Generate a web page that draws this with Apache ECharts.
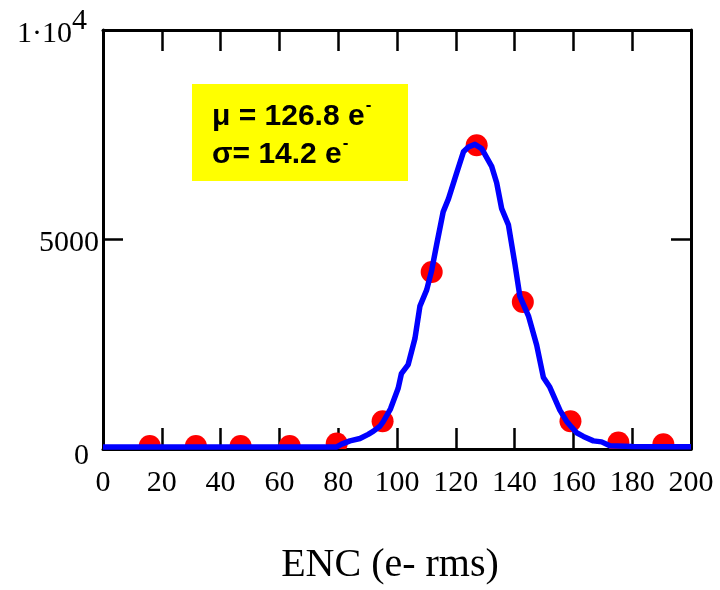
<!DOCTYPE html>
<html>
<head>
<meta charset="utf-8">
<script src="https://cdn.jsdelivr.net/npm/echarts@6/dist/echarts.min.js"></script>
<style>html,body{margin:0;padding:0;background:#fff}#c{width:720px;height:590px}</style>
</head>
<body>
<div id="c"></div>
<script>
// Measured points (ENC, counts)
var pointX = [15.9, 31.6, 46.8, 63.5, 79.5, 95.1, 111.8, 127.1, 142.8, 159.0, 175.3, 190.6];
var pointY = [70, 70, 70, 70, 130, 660, 4225, 7250, 3510, 660, 155, 115];
// Fitted curve
var curveX = [0, 20, 40, 60, 74, 79.5, 81.2, 84, 87.4, 90.2, 92, 94.2, 95.3, 97.8, 100.4, 101.5, 103.8, 106.1, 107.8, 110.1, 111.8, 113.5, 115.7, 117.5, 120.3, 122.6, 124.3, 126.5, 128.8, 132.2, 133.9, 135.6, 137.9, 140.1, 141.8, 144.7, 147.5, 149.8, 152, 155.4, 157.7, 159.4, 161.1, 163.4, 166.8, 169.6, 172.4, 180, 190, 200];
var curveY = [50, 50, 50, 50, 50, 50, 116, 194, 250, 350, 426, 543, 650, 960, 1450, 1800, 2016, 2636, 3411, 3798, 4264, 4884, 5659, 5969, 6589, 7093, 7209, 7271, 7170, 6744, 6356, 5737, 5349, 4419, 3644, 3178, 2481, 1705, 1472, 930, 659, 520, 388, 300, 194, 170, 77, 60, 55, 55];
var xTicks = [0, 20, 40, 60, 80, 100, 120, 140, 160, 180, 200];
var yTicks = [0, 5000];
var yTopLabel = '1·10';
var yTopExponent = '4';
var annotation1 = 'μ = 126.8 e';
var annotation2 = 'σ= 14.2 e';

var points = pointX.map(function (x, i) { return [x, pointY[i]]; });
var curve = curveX.map(function (x, i) { return [x, curveY[i]]; });

var chart = echarts.init(document.getElementById('c'));
var serif = 'Liberation Serif';
var axisLineStyle = { color: '#000', width: 3 };
var tickStyle = { color: '#000', width: 2.5 };
chart.setOption({
  animation: false,
  backgroundColor: '#fff',
  grid: { left: 103, width: 588, top: 30, height: 430, containLabel: false },
  xAxis: [{
    type: 'value', min: 0, max: 200, interval: 20, position: 'bottom',
    axisLine: { show: true, onZero: false, lineStyle: axisLineStyle },
    axisTick: { show: true, inside: true, length: 21, lineStyle: tickStyle },
    splitLine: { show: false },
    axisLabel: { fontFamily: serif, fontSize: 30, color: '#000', margin: 19,
      formatter: function (v) { return xTicks.indexOf(v) >= 0 ? String(v) : ''; } },
    name: 'ENC (e- rms)', nameLocation: 'middle', nameGap: 96,
    nameTextStyle: { fontFamily: serif, fontSize: 40, color: '#000', padding: [0, 14, 0, 0] }
  }, {
    type: 'value', min: 0, max: 200, interval: 20, position: 'top',
    axisLine: { show: true, onZero: false, lineStyle: axisLineStyle },
    axisTick: { show: true, inside: true, length: 21, lineStyle: tickStyle },
    axisLabel: { show: false }, splitLine: { show: false }
  }],
  yAxis: [{
    type: 'value', min: 0, max: 10000, interval: 5000, position: 'left',
    axisLine: { show: true, onZero: false, lineStyle: axisLineStyle },
    axisTick: { show: true, inside: true, length: 20, lineStyle: tickStyle },
    splitLine: { show: false },
    axisLabel: {
      fontFamily: serif, fontSize: 30, color: '#000', margin: 4,
      formatter: function (v) {
        if (v === 0) return '{z|0}';
        return v === 5000 ? '{v|5000}' : '';
      },
      rich: {
        v: { fontFamily: serif, fontSize: 30, color: '#000', padding: [8, 0, 0, 0] },
        z: { fontFamily: serif, fontSize: 30, color: '#000', padding: [14, 10, 0, 0] }
      }
    }
  }, {
    type: 'value', min: 0, max: 10000, interval: 5000, position: 'right',
    axisLine: { show: true, onZero: false, lineStyle: axisLineStyle },
    axisTick: { show: true, inside: true, length: 20, lineStyle: tickStyle },
    axisLabel: { show: false }, splitLine: { show: false }
  }],
  series: [{
    type: 'custom',
    clip: true,
    z: 2,
    data: points,
    renderItem: function (params, api) {
      var p = api.coord([api.value(0), api.value(1)]);
      return { type: 'circle', shape: { cx: p[0], cy: p[1], r: 11 }, style: { fill: '#FF0000' } };
    }
  }, {
    type: 'line',
    z: 3,
    data: curve,
    showSymbol: false,
    symbol: 'none',
    clip: true,
    lineStyle: { color: '#0000FF', width: 5.5, join: 'round' }
  }, {
    type: 'line', xAxisIndex: 1, yAxisIndex: 1, data: [], silent: true
  }],
  graphic: [{
    type: 'text', left: 17, top: 19, z: 11,
    style: { text: yTopLabel, fontFamily: serif, fontSize: 30, fill: '#000' }
  }, {
    type: 'text', left: 72, top: 6, z: 11,
    style: { text: yTopExponent, fontFamily: serif, fontSize: 30, fill: '#000' }
  }, {
    type: 'rect', left: 192, top: 84, z: 10,
    shape: { width: 216, height: 97 },
    style: { fill: '#FFFF00' }
  }, {
    type: 'text', left: 212, top: 97, z: 11,
    style: {
      text: '{m|' + annotation1 + '}{s|-}\n{m|' + annotation2 + '}{s|-}',
      rich: {
        m: { fontFamily: 'Liberation Sans', fontWeight: 'bold', fontSize: 30, lineHeight: 38, fill: '#000' },
        s: { fontFamily: 'Liberation Sans', fontWeight: 'bold', fontSize: 17, lineHeight: 38, fill: '#000', padding: [0, 0, 22, 1] }
      }
    }
  }]
});
</script>
</body>
</html>
